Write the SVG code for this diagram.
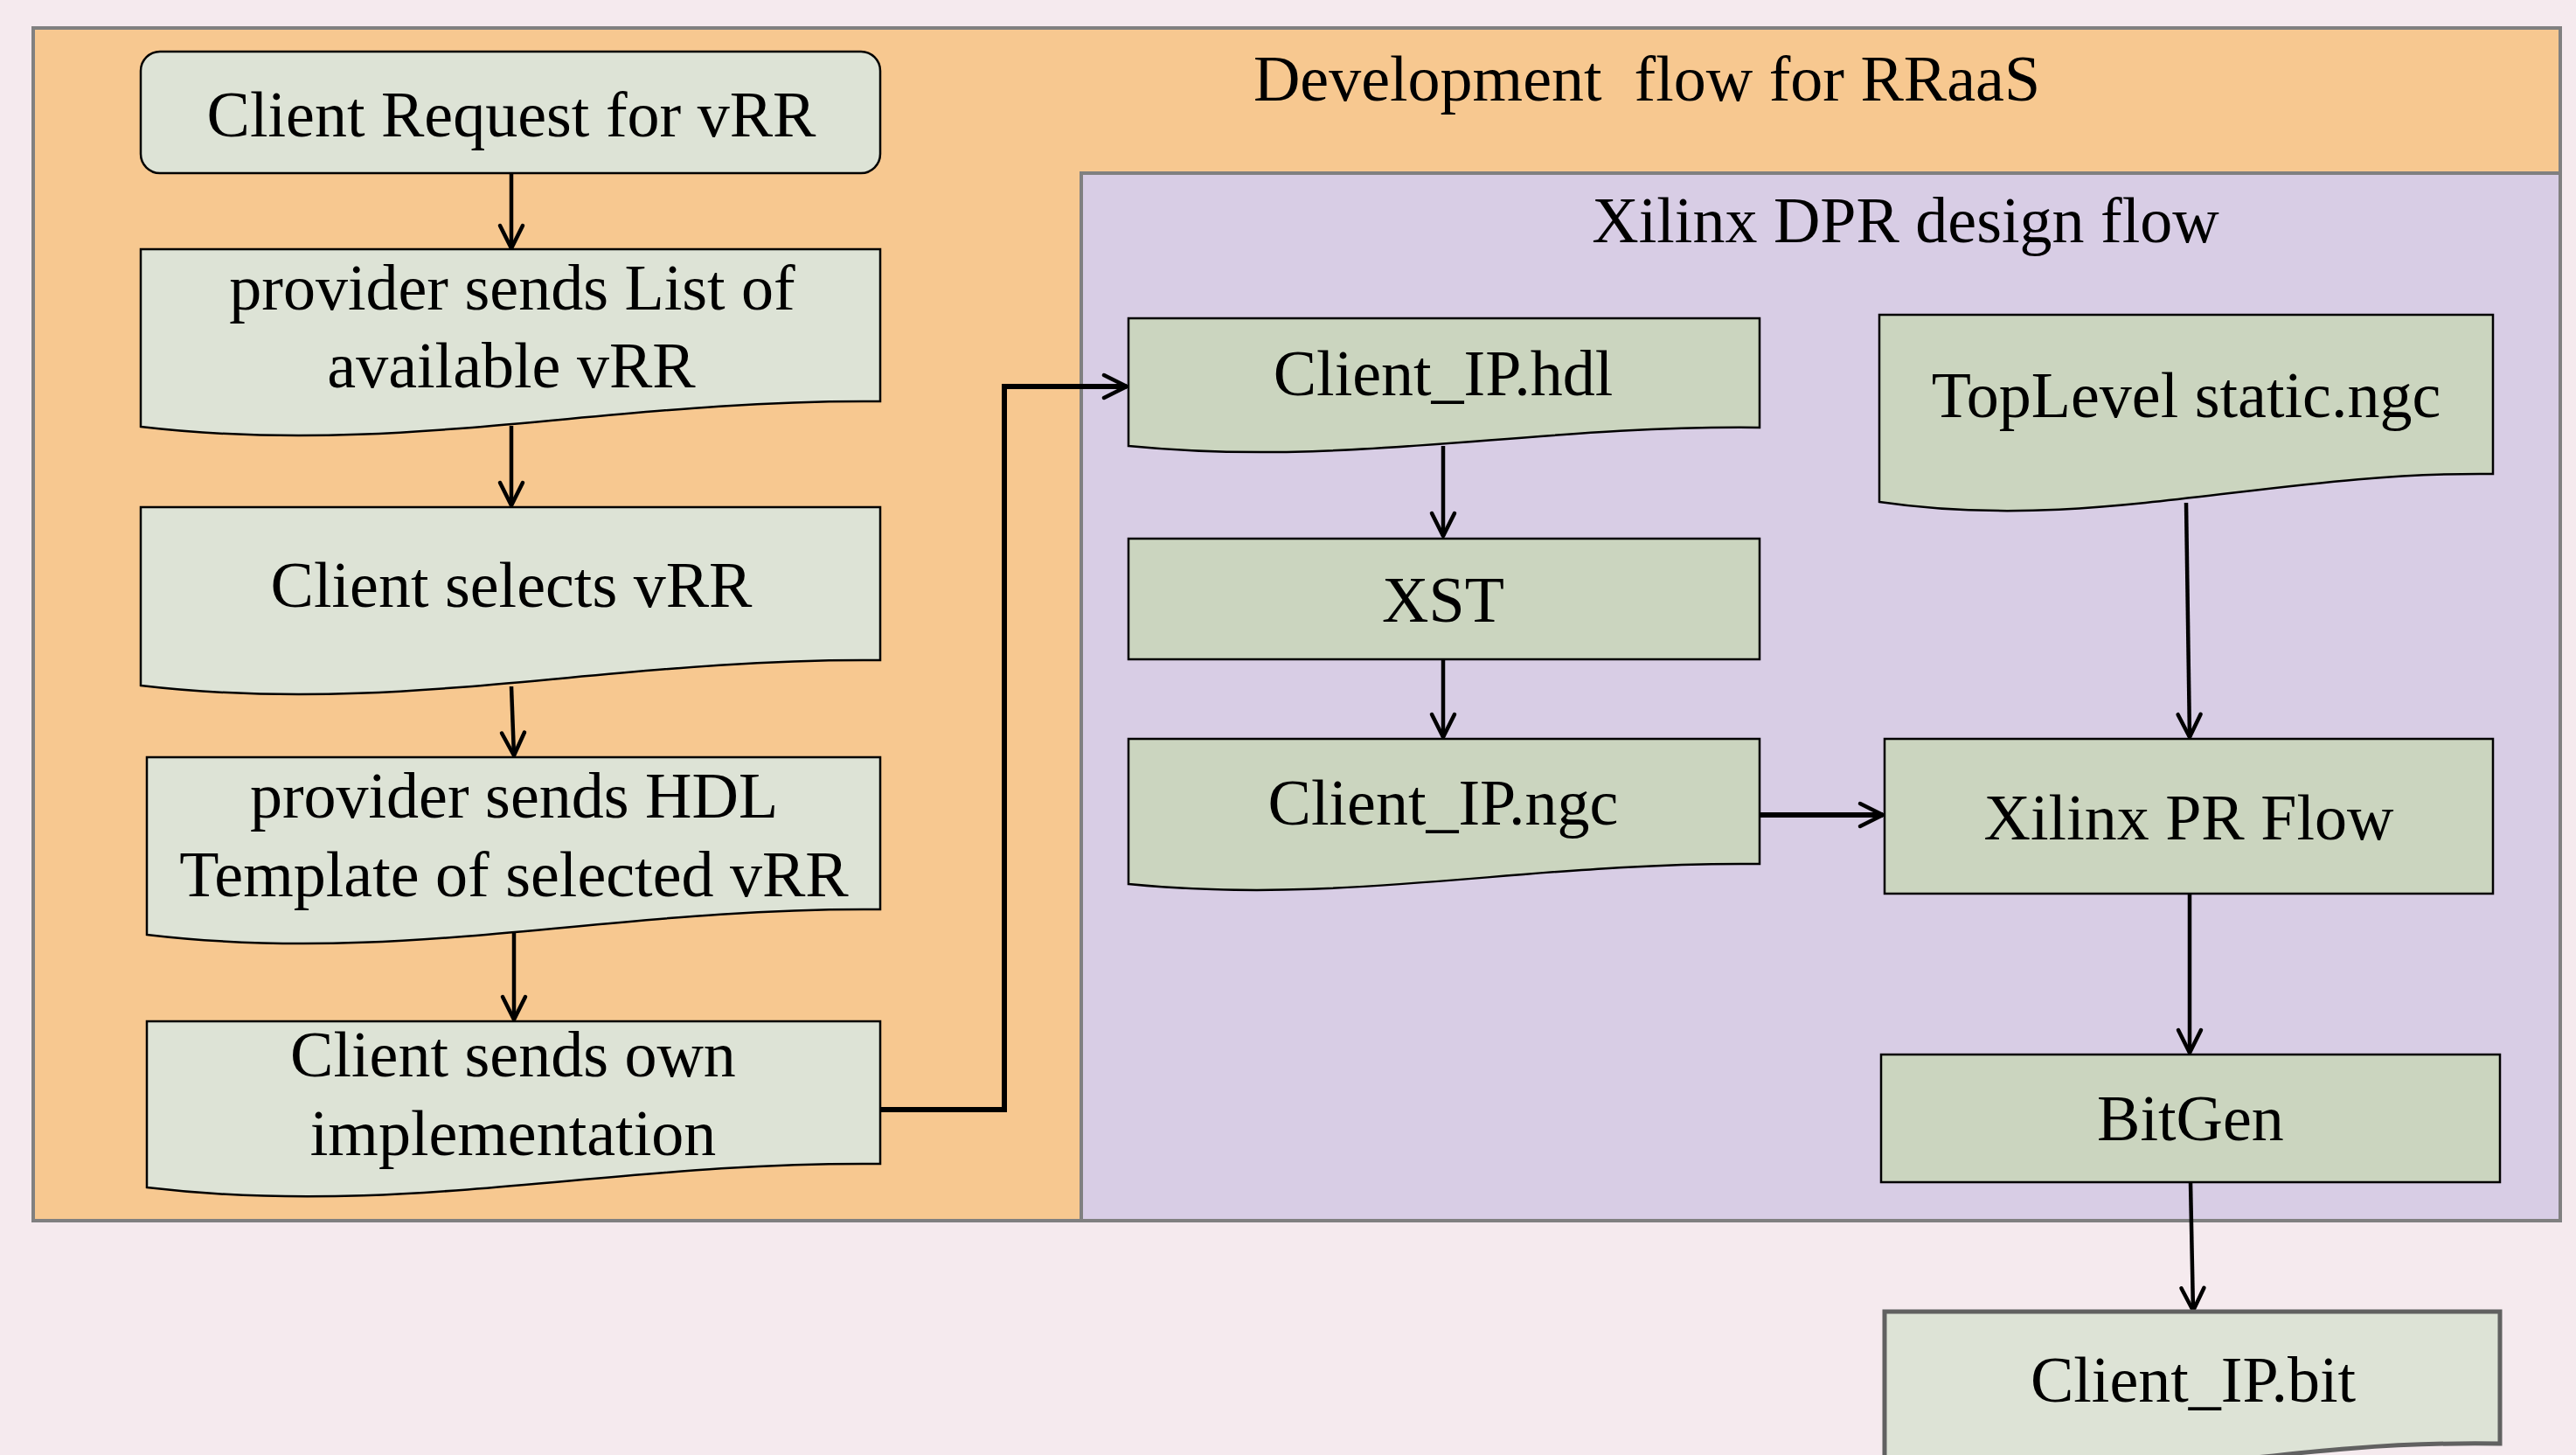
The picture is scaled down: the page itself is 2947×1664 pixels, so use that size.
<svg xmlns="http://www.w3.org/2000/svg" width="2947" height="1664" viewBox="0 0 2947 1664">
<style>
.t{font-family:"Liberation Serif","Times New Roman",serif;font-size:74px;text-anchor:middle;fill:#000}
.lt{fill:#DDE3D6;stroke:#000;stroke-width:2.5}
.dk{fill:#CBD5BF;stroke:#000;stroke-width:2.5}
.c{fill:none;stroke:#000;stroke-width:4.5;marker-end:url(#arr)}
.ck{fill:none;stroke:#000;stroke-width:6;marker-end:url(#arr)}
</style>
<defs>
<marker id="arr" markerUnits="userSpaceOnUse" markerWidth="32" markerHeight="32" viewBox="0 0 32 32" refX="29" refY="15" orient="auto" overflow="visible">
<path d="M3,2 L29,15 L3,28" fill="none" stroke="#000" stroke-width="4.5" stroke-linejoin="round" stroke-linecap="round"/>
</marker>
</defs>
<rect x="0" y="0" width="2947" height="1664" fill="#F5EAEE"/>
<g id="dev-flow">
<rect x="38" y="32" width="2891" height="1364" fill="#F7C890" stroke="#808080" stroke-width="4"/>
<text class="t" x="1884" y="115" xml:space="preserve" style="white-space:pre">Development  flow for RRaaS</text>
</g>
<g id="xilinx-dpr">
<rect x="1237" y="198" width="1692" height="1198" fill="#D8CDE5" stroke="#808080" stroke-width="4"/>
<text class="t" x="2180" y="277">Xilinx DPR design flow</text>
</g>
<g id="connectors">
<path class="c" d="M585,198 L585,284"/>
<path class="c" d="M585,487 L585,578"/>
<path class="c" d="M585,785 L588,864"/>
<path class="c" d="M588,1062 L588,1166"/>
<path class="ck" d="M1007,1269 L1149,1269 L1149,442 L1289,442"/>
<path class="c" d="M1651,510 L1651,613"/>
<path class="c" d="M1651,754 L1651,843"/>
<path class="ck" d="M2013,932 L2154,932"/>
<path class="c" d="M2501,575 L2505,843"/>
<path class="c" d="M2505,1022 L2505,1204"/>
<path class="c" d="M2506,1352 L2509,1499"/>
</g>
<g id="client-request">
<rect class="lt" x="161" y="59" width="846" height="139" rx="22"/>
<text class="t" x="585" y="156">Client Request for vRR</text>
</g>
<g id="provider-list">
<path class="lt" d="M161,285 H1007 V459 C700,456 457,523 161,488 Z"/>
<text class="t" x="586" y="354">provider sends List of</text>
<text class="t" x="585" y="443">available vRR</text>
</g>
<g id="client-selects">
<path class="lt" d="M161,580 H1007 V755 C700,752 457,819 161,784 Z"/>
<text class="t" x="585" y="694">Client selects vRR</text>
</g>
<g id="provider-hdl">
<path class="lt" d="M168,866 H1007 V1040 C702,1037 462,1104 168,1069 Z"/>
<text class="t" x="588" y="935">provider sends HDL</text>
<text class="t" x="588" y="1025">Template of selected vRR</text>
</g>
<g id="client-sends">
<path class="lt" d="M168,1168 H1007 V1331 C702,1328 462,1393 168,1358 Z"/>
<text class="t" x="587" y="1231">Client sends own</text>
<text class="t" x="587" y="1321">implementation</text>
</g>
<g id="client-ip-hdl">
<path class="dk" d="M1291,364 H2013 V489 C1750,486 1544,535 1291,510 Z"/>
<text class="t" x="1651" y="452">Client_IP.hdl</text>
</g>
<g id="xst">
<rect class="dk" x="1291" y="616" width="722" height="138"/>
<text class="t" x="1651" y="711">XST</text>
</g>
<g id="client-ip-ngc">
<path class="dk" d="M1291,845 H2013 V988 C1750,985 1544,1036 1291,1011 Z"/>
<text class="t" x="1651" y="943">Client_IP.ngc</text>
</g>
<g id="toplevel-static">
<path class="dk" d="M2150,360 H2852 V542 C2596,539 2396,610 2150,574 Z"/>
<text class="t" x="2501" y="477">TopLevel static.ngc</text>
</g>
<g id="xilinx-pr-flow">
<rect class="dk" x="2156" y="845" width="696" height="177"/>
<text class="t" x="2504" y="960">Xilinx PR Flow</text>
</g>
<g id="bitgen">
<rect class="dk" x="2152" y="1206" width="708" height="146"/>
<text class="t" x="2506" y="1304">BitGen</text>
</g>
<g id="client-ip-bit">
<path d="M2156,1500 H2860 V1651 C2578,1646 2402,1715 2156,1680 Z" fill="#DDE3D6" stroke="#616161" stroke-width="5"/>
<text class="t" x="2509" y="1603">Client_IP.bit</text>
</g>
</svg>
